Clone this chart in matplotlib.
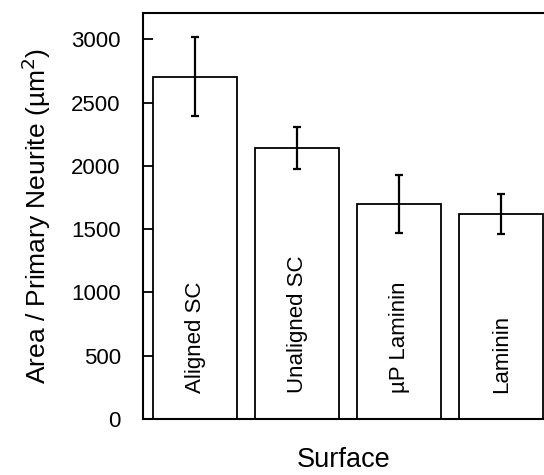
import numpy as np
import matplotlib
matplotlib.use('Agg')
import matplotlib.pyplot as plt

plt.rcParams['font.family'] = ['Liberation Sans', 'DejaVu Sans']

surfaces = ['Aligned SC', 'Unaligned SC', 'µP Laminin', 'Laminin']
area = [2705, 2142, 1698, 1622]
err = [312, 168, 230, 157]


def main():
	fig = plt.figure(figsize=(5.44, 4.75), dpi=100)
	ax = fig.add_axes([0.263, 0.118, 0.737, 0.855])
	x = np.arange(len(surfaces))
	ax.bar(x, area, width=0.82, color='white', edgecolor='black', linewidth=1.3, zorder=2)
	ax.errorbar(x, area, yerr=err, fmt='none', ecolor='black', elinewidth=1.6,
		capsize=3.2, capthick=1.6, zorder=3)
	for xi, name in zip(x, surfaces):
		ax.text(xi, 205, name, rotation=90, ha='center', va='bottom', fontsize=16)

	ax.set_xlim(-0.51, 3.42)
	ax.set_ylim(0, 3210)
	ax.set_yticks([0, 500, 1000, 1500, 2000, 2500, 3000])
	ax.set_xticks([])
	ax.tick_params(axis='y', direction='in', length=7, width=1.3, labelsize=16, pad=16)
	ax.spines['right'].set_visible(False)
	for s in ['left', 'top', 'bottom']:
		ax.spines[s].set_linewidth(1.5)
	ax.set_ylabel('Area / Primary Neurite (µm$^2$)', fontsize=19, labelpad=13)
	ax.set_xlabel('Surface', fontsize=19.5, labelpad=20)
	fig.savefig('out.png', dpi=100)
	plt.close()


if __name__ == "__main__":
	main()
